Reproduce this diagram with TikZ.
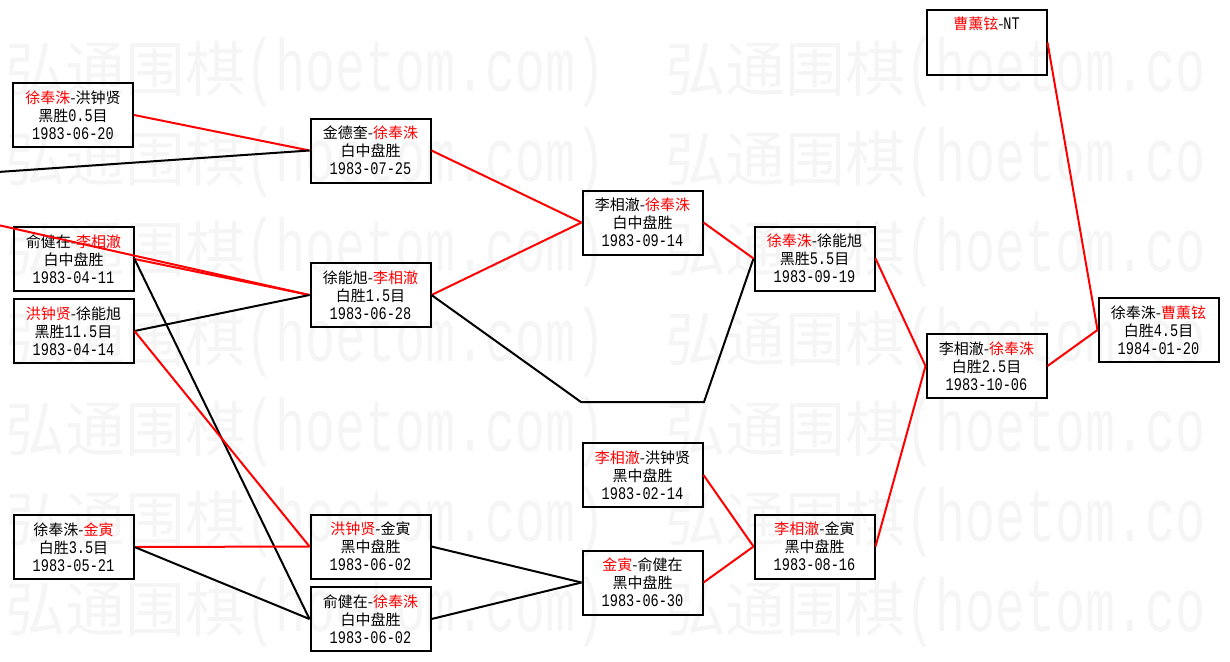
\documentclass[tikz,border=0pt]{standalone}
\usepackage{fontspec}
\usepackage{graphicx}
\newfontfamily\cjk{Noto Sans CJK SC}
\newfontfamily\monof{Liberation Mono}
\newcommand\redn[1]{\textcolor{red}{#1}}
\newcommand\dnum[1]{\scalebox{1}[1.3]{\monof\fontsize{13.6}{18}\selectfont #1}}
\newcommand\wmtext[1]{{\cjk\fontsize{60}{60}\selectfont 弘通围棋}\scalebox{1}[1.5]{\monof\fontsize{50}{50}\selectfont #1}}
\tikzset{
  gbox/.style={draw=black, line width=2pt, minimum width=120pt, minimum height=64pt,
    inner sep=2pt, align=center, font=\cjk\fontsize{15}{18}\selectfont},
  rl/.style={draw=red, line width=2pt},
  bl/.style={draw=black, line width=2pt},
  wm/.style={anchor=base west, inner sep=0pt, text=black!4},
  nt/.style={anchor=north, inner sep=0pt, font=\cjk\fontsize{15}{18}\selectfont}
}
\begin{document}
\begin{tikzpicture}[x=1pt,y=-1pt]
\useasboundingbox (0,0) rectangle (1230,661);
\begin{scope}
\clip (0,0) rectangle (1230,661);
\foreach \k in {0,...,6} {
  \node[wm] (wl\k) at (5,{91+90*\k}) {\wmtext{(hoetom.com)}};
  \node[wm] (wr\k) at (665,{91+90*\k}) {\wmtext{(hoetom.co}};
}
\end{scope}

% nodes
\node[gbox] (A) at (73,115) {\redn{徐奉洙}-洪钟贤\\黑胜\dnum{0.5}目\\\dnum{1983-06-20}};
\node[gbox] (B) at (370.5,150.5) {金德奎-\redn{徐奉洙}\\白中盘胜\\\dnum{1983-07-25}};
\node[gbox] (C) at (73.5,259) {俞健在-\redn{李相澈}\\白中盘胜\\\dnum{1983-04-11}};
\node[gbox] (D) at (73.5,331) {\redn{洪钟贤}-徐能旭\\黑胜\dnum{11.5}目\\\dnum{1983-04-14}};
\node[gbox] (E) at (370.5,295) {徐能旭-\redn{李相澈}\\白胜\dnum{1.5}目\\\dnum{1983-06-28}};
\node[gbox] (F) at (73.5,547) {徐奉洙-\redn{金寅}\\白胜\dnum{3.5}目\\\dnum{1983-05-21}};
\node[gbox] (G) at (370.5,546.5) {\redn{洪钟贤}-金寅\\黑中盘胜\\\dnum{1983-06-02}};
\node[gbox] (H) at (370.5,619) {俞健在-\redn{徐奉洙}\\白中盘胜\\\dnum{1983-06-02}};
\node[gbox] (I) at (642.5,222.5) {李相澈-\redn{徐奉洙}\\白中盘胜\\\dnum{1983-09-14}};
\node[gbox] (J) at (814.5,258.5) {\redn{徐奉洙}-徐能旭\\黑胜\dnum{5.5}目\\\dnum{1983-09-19}};
\node[gbox] (K) at (642.5,475) {\redn{李相澈}-洪钟贤\\黑中盘胜\\\dnum{1983-02-14}};
\node[gbox] (L) at (642.5,582.5) {\redn{金寅}-俞健在\\黑中盘胜\\\dnum{1983-06-30}};
\node[gbox] (M) at (814.5,546.5) {\redn{李相澈}-金寅\\黑中盘胜\\\dnum{1983-08-16}};
\node[gbox] (N) at (986.5,42.5) {};
\node[nt] (Nt) at ([yshift=-7pt]N.north) {\redn{曹薰铉}-\dnum{NT}};
\node[gbox] (O) at (986.5,366) {李相澈-\redn{徐奉洙}\\白胜\dnum{2.5}目\\\dnum{1983-10-06}};
\node[gbox] (P) at (1158.5,330) {徐奉洙-\redn{曹薰铉}\\白胜\dnum{4.5}目\\\dnum{1984-01-20}};

\coordinate (lb) at (-2,172);
\coordinate (lr) at (-2,225);
\coordinate (bye1) at (581,402);
\coordinate (bye2) at (704,402);

% connectors
\draw[rl] (A.east) -- (B.west);
\draw[bl] (lb) -- (B.west);
\draw[rl] (lr) -- (E.west);
\draw[rl] (C.east) -- (E.west);
\draw[bl] (C.east) -- (H.west);
\draw[bl] (D.east) -- (E.west);
\draw[rl] (D.east) -- (G.west);
\draw[rl] (F.east) -- (G.west);
\draw[bl] (F.east) -- (H.west);
\draw[rl] (B.east) -- (I.west);
\draw[rl] (E.east) -- (I.west);
\draw[bl] (E.east) -- (bye1) -- (bye2) -- (J.west);
\draw[rl] (I.east) -- (J.west);
\draw[bl] (G.east) -- (L.west);
\draw[bl] (H.east) -- (L.west);
\draw[rl] (K.east) -- (M.west);
\draw[rl] (L.east) -- (M.west);
\draw[rl] (J.east) -- (O.west);
\draw[rl] (M.east) -- (O.west);
\draw[rl] (O.east) -- (P.west);
\draw[rl] (N.east) -- (P.west);
\end{tikzpicture}
\end{document}
